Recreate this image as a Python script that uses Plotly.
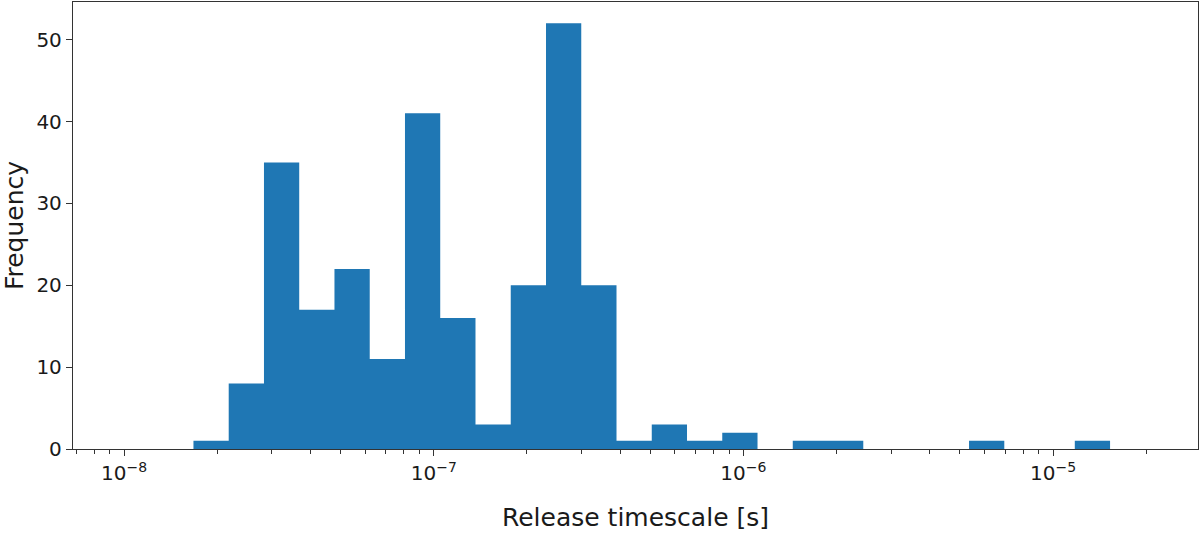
import numpy as np
import plotly.graph_objects as go

# Histogram counts per logarithmic bin
counts = [1, 8, 35, 17, 22, 11, 41, 16, 3, 20, 52, 20, 1, 3, 1, 2, 0, 1, 1, 0, 0, 0, 1, 0, 0, 1]
# log10 of the first and last bin edges
bin_min_exp = -7.776
bin_max_exp = -4.816
x_label = "Release timescale [s]"
y_label = "Frequency"
y_ticks = [0, 10, 20, 30, 40, 50]
x_tick_exps = [-8, -7, -6, -5]

edges = np.logspace(bin_min_exp, bin_max_exp, len(counts) + 1)
step_y = list(counts) + [counts[-1]]

BLUE = "#1f77b4"
AX = "#333333"
FONT = "DejaVu Sans"

fig = go.Figure()
fig.add_trace(go.Scatter(
    x=edges, y=step_y, mode="lines", line_shape="hv",
    line=dict(width=0, color=BLUE), fill="tozeroy", fillcolor=BLUE,
    hoverinfo="skip", showlegend=False,
))

minor_vals = [m * 10.0 ** k for k in range(-9, -3) for m in range(2, 10)]
x_tickvals = [10.0 ** e for e in x_tick_exps]
x_ticktext = ["10<sup>\u2212%d</sup>" % (-e) for e in x_tick_exps]

fig.update_layout(
    width=1200, height=533,
    margin=dict(l=73, r=2, t=2, b=84),
    paper_bgcolor="white", plot_bgcolor="white",
    font=dict(family=FONT, color="#1a1a1a", size=20),
    xaxis=dict(
        type="log", range=[-8.165, -4.532],
        tickmode="array", tickvals=x_tickvals, ticktext=x_ticktext,
        showgrid=False, zeroline=False, automargin=False,
        showline=True, mirror=True, linecolor=AX, linewidth=1.3,
        ticks="outside", ticklen=6, tickwidth=1.2, tickcolor=AX,
        tickfont=dict(size=20),
        minor=dict(tickmode="array", tickvals=minor_vals, ticks="outside", ticklen=3.5,
                   tickwidth=1, tickcolor=AX, showgrid=False),
        title=dict(text=x_label, font=dict(size=25), standoff=24),
    ),
    yaxis=dict(
        range=[0, 54.6], tickmode="array", tickvals=y_ticks,
        showgrid=False, zeroline=False, automargin=False,
        showline=True, mirror=True, linecolor=AX, linewidth=1.3,
        ticks="outside", ticklen=6, tickwidth=1.2, tickcolor=AX,
        tickfont=dict(size=20),
        title=dict(text=y_label, font=dict(size=25), standoff=6),
    ),
)

fig.write_html(
    "out.html",
    config={"displayModeBar": False},
    post_script="document.body.style.margin='0';document.body.style.overflow='hidden';",
)
